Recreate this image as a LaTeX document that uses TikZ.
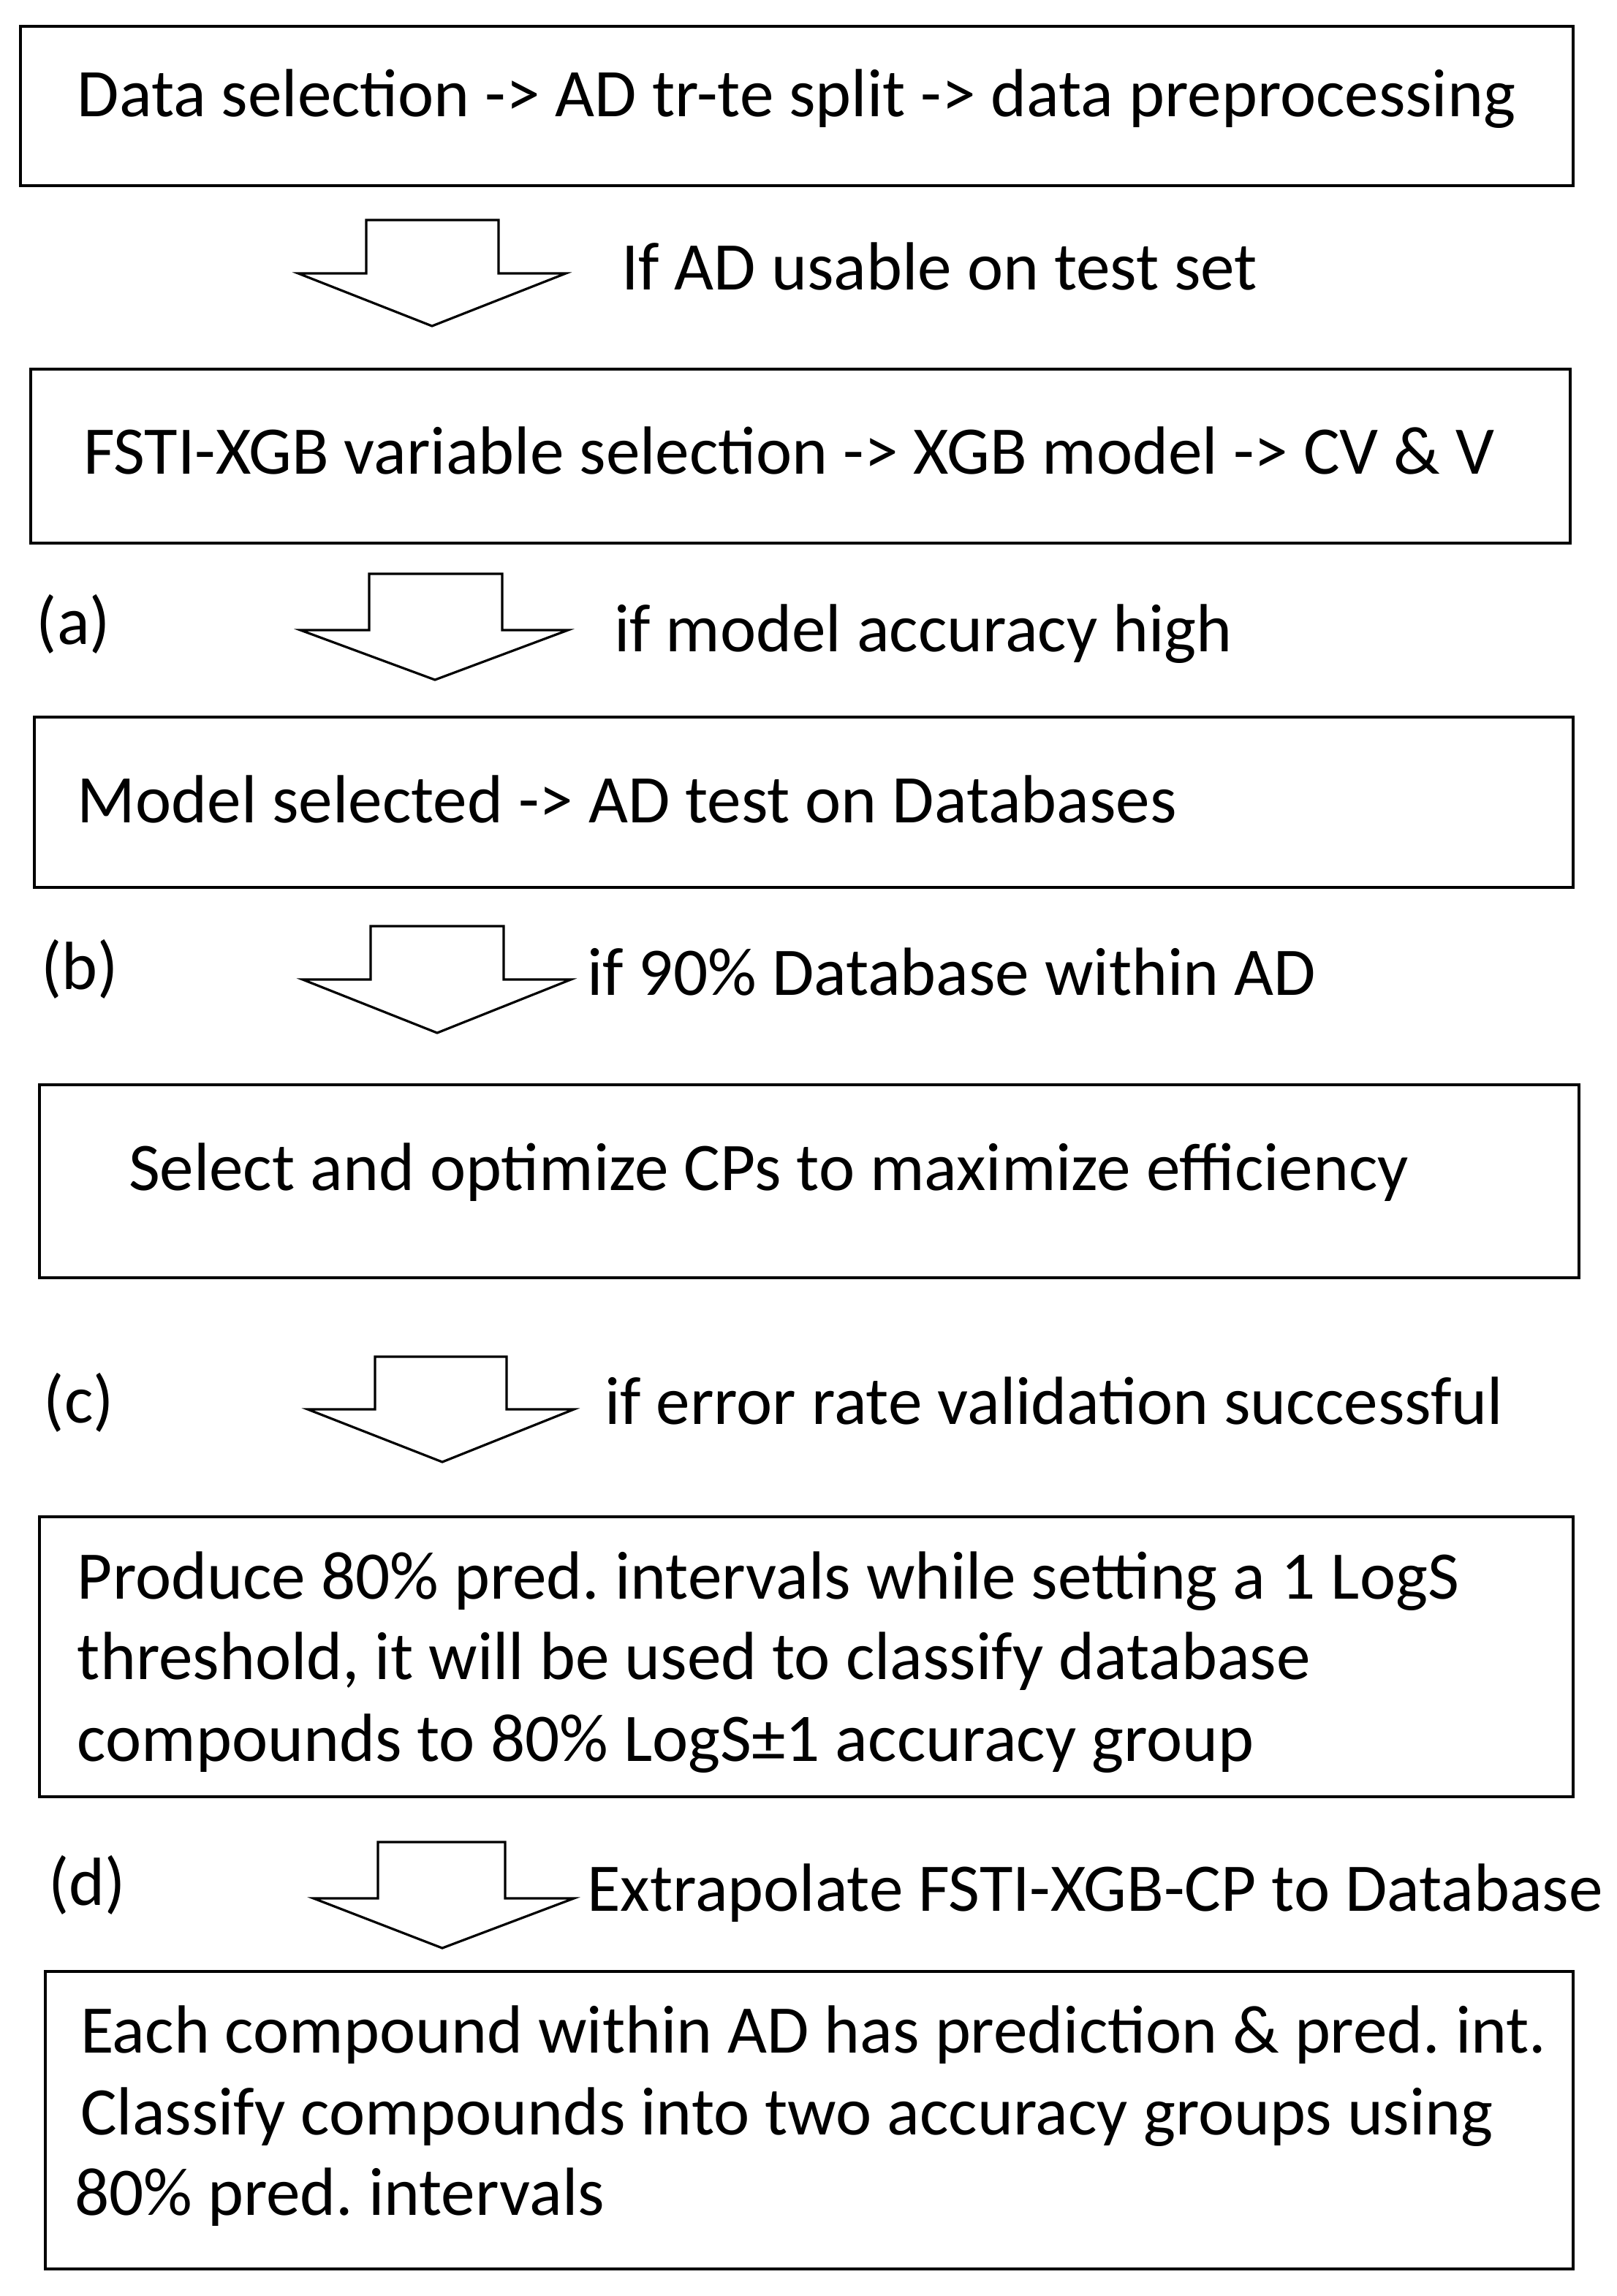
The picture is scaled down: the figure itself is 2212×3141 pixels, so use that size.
\documentclass[tikz,border=0pt]{standalone}
\usepackage{fontspec}
\setmainfont{Carlito}
\begin{document}
\frenchspacing
\begin{tikzpicture}[x=0.25pt,y=-0.25pt,
  boxst/.style={draw=black, line width=1pt, inner sep=0pt, outer sep=0pt, anchor=north west},
  txt/.style={anchor=base west, inner sep=0pt, outer sep=0pt, font=\fontsize{23.3}{28}\selectfont},
  barrow/.style={draw=black, line width=0.8pt, fill=white, line join=miter}]
\useasboundingbox (0,0) rectangle (2212,3141);
\fill[white] (0,0) rectangle (2212,3141);
% boxes
\node[boxst, minimum width=531pt, minimum height=54.5pt] (b1) at (28,36) {};
\node[boxst, minimum width=526.5pt, minimum height=59.5pt] (b2) at (42,505) {};
\node[boxst, minimum width=526.25pt, minimum height=58.25pt] (b3) at (47,981) {};
\node[boxst, minimum width=526.5pt, minimum height=66pt] (b4) at (54,1484) {};
\node[boxst, minimum width=524.5pt, minimum height=95.75pt] (b5) at (54,2075) {};
\node[boxst, minimum width=522.5pt, minimum height=101.75pt] (b6) at (62,2697) {};
% block arrows
\newcommand\blockarrow[8]{%
  \draw[barrow] (#1,#3) -- (#2,#3) -- (#2,#4) -- (#6,#4) -- (#7,#8) -- (#5,#4) -- (#1,#4) -- cycle;}
\blockarrow{501}{682}{301}{374}{408}{774}{591}{446}
\blockarrow{505}{687}{785}{862}{411}{777}{595}{930}
\blockarrow{507}{689}{1267}{1340}{414}{781}{598}{1413}
\blockarrow{513}{693}{1856}{1928}{421}{785}{605}{2000}
\blockarrow{517}{691}{2520}{2597}{429}{785}{605}{2665}
% texts
\node[txt] (t1) at (106,159) {Data selection -> AD tr-te split -> data preprocessing};
\node[txt] (l1) at (850,396) {If AD usable on test set};
\node[txt] (t2) at (114,648) {FSTI-XGB variable selection -> XGB model -> CV \& V};
\node[txt] (pa) at (50,881) {(a)};
\node[txt] (l2) at (840,891) {if model accuracy high};
\node[txt] (t3) at (106,1125) {Model selected -> AD test on Databases};
\node[txt] (pb) at (56,1353) {(b)};
\node[txt] (l3) at (803,1361) {if 90\% Database within AD};
\node[txt] (t4) at (176,1628) {Select and optimize CPs to maximize efficiency};
\node[txt] (pc) at (60,1946) {(c)};
\node[txt] (l4) at (827,1948) {if error rate validation successful};
\node[txt] (t5a) at (106,2187) {Produce 80\% pred. intervals while setting a 1 LogS};
\node[txt] (t5b) at (106,2297) {threshold, it will be used to classify database};
\node[txt] (t5c) at (106,2409) {compounds to 80\% LogS±1 accuracy group};
\node[txt] (pd) at (66,2606) {(d)};
\node[txt] (l5) at (803,2614) {Extrapolate FSTI-XGB-CP to Database};
\node[txt] (t6a) at (110,2808) {Each compound within AD has prediction \& pred. int.};
\node[txt] (t6b) at (110,2920) {Classify compounds into two accuracy groups using};
\node[txt] (t6c) at (102,3030) {80\% pred. intervals};
\end{tikzpicture}
\end{document}
